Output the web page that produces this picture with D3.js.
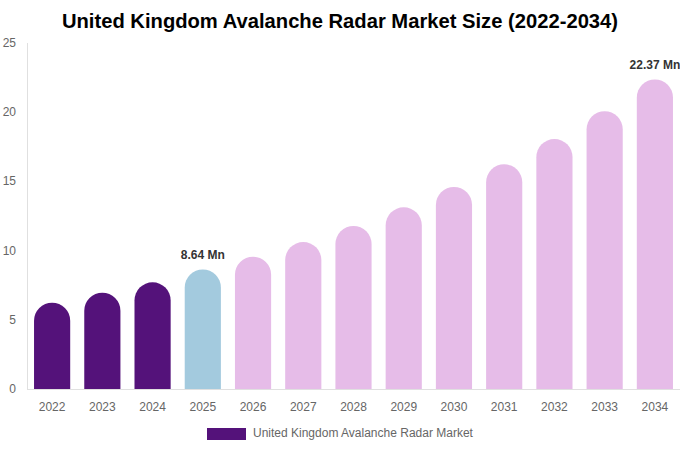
<!DOCTYPE html>
<html>
<head>
<meta charset="utf-8">
<script src="https://cdn.jsdelivr.net/npm/d3@7.9.0/dist/d3.min.js"></script>
<style>
  body { margin: 0; background: #fff; font-family: "Liberation Sans", Arial, sans-serif; }
  svg { display: block; }
</style>
</head>
<body>
<svg id="chart" width="680" height="450"></svg>
<script>
// chart data
const years = ['2022', '2023', '2024', '2025', '2026', '2027', '2028', '2029', '2030', '2031', '2032', '2033', '2034'];
const values = [6.24, 6.96, 7.71, 8.64, 9.56, 10.62, 11.78, 13.13, 14.6, 16.24, 18.06, 20.07, 22.37];
const barColors = ['#54127a', '#54127a', '#54127a', '#a3cade', '#e6bce8', '#e6bce8', '#e6bce8', '#e6bce8', '#e6bce8', '#e6bce8', '#e6bce8', '#e6bce8', '#e6bce8'];
const yTicks = [0, 5, 10, 15, 20, 25];
const labelled = { '2025': '8.64 Mn', '2034': '22.37 Mn' };
const seriesName = 'United Kingdom Avalanche Radar Market';
const title = 'United Kingdom Avalanche Radar Market Size (2022-2034)';

const svg = d3.select('#chart');
const margin = { top: 43, right: 0, bottom: 61, left: 27 };
const width = 680, height = 450;

let x = d3.scaleBand()
    .domain(years)
    .range([margin.left, width - margin.right])
    .paddingInner(0.28)
    .paddingOuter(0.14);
let y = d3.scaleLinear().domain([0, 25]).range([height - margin.bottom, margin.top]);

// title
svg.append('text')
    .attr('x', 340).attr('y', 28)
    .attr('text-anchor', 'middle')
    .attr('font-size', 20.2).attr('font-weight', 'bold')
    .attr('fill', '#000')
    .text(title);

// y axis line + labels
svg.append('line')
    .attr('x1', margin.left + 0.5).attr('x2', margin.left + 0.5)
    .attr('y1', margin.top).attr('y2', y(0))
    .attr('stroke', '#e0e0e0');
svg.append('line')
    .attr('x1', margin.left).attr('x2', width)
    .attr('y1', y(0) + 0.5).attr('y2', y(0) + 0.5)
    .attr('stroke', '#e0e0e0');

svg.selectAll('.ytick')
    .data(yTicks)
    .join('text')
    .attr('class', 'ytick')
    .attr('x', 16).attr('y', (d) => y(d) + 4)
    .attr('text-anchor', 'end')
    .attr('font-size', 12).attr('fill', '#666')
    .text((d) => d);

// rounded-top bars
function barPath(d, i) {
    let x0 = x(years[i]), w = x.bandwidth(), r = w / 2;
    let top = y(d), bottom = y(0);
    return `M${x0},${bottom} V${top + r} A${r},${r} 0 0 1 ${x0 + w},${top + r} V${bottom} Z`;
}
svg.selectAll('.bar')
    .data(values)
    .join('path')
    .attr('class', 'bar')
    .attr('d', barPath)
    .attr('fill', (d, i) => barColors[i]);

// x labels
svg.selectAll('.xtick')
    .data(years)
    .join('text')
    .attr('class', 'xtick')
    .attr('x', (d) => x(d) + x.bandwidth() / 2)
    .attr('y', 411)
    .attr('text-anchor', 'middle')
    .attr('font-size', 12).attr('fill', '#666')
    .text((d) => d);

// value labels
svg.selectAll('.vlabel')
    .data(years.filter((d) => labelled[d]))
    .join('text')
    .attr('class', 'vlabel')
    .attr('x', (d) => x(d) + x.bandwidth() / 2)
    .attr('y', (d) => y(values[years.indexOf(d)]) - 10)
    .attr('text-anchor', 'middle')
    .attr('font-size', 12).attr('font-weight', 'bold')
    .attr('fill', '#333')
    .text((d) => labelled[d]);

// legend
svg.append('rect')
    .attr('x', 207).attr('y', 428)
    .attr('width', 39).attr('height', 12)
    .attr('fill', '#54127a');
svg.append('text')
    .attr('x', 253).attr('y', 437)
    .attr('font-size', 12).attr('fill', '#666')
    .text(seriesName);
</script>
</body>
</html>
